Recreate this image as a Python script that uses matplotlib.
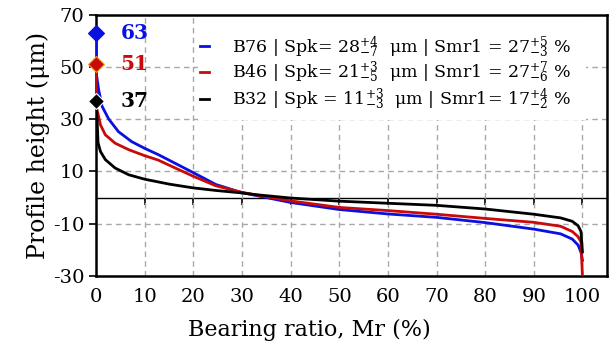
import matplotlib
matplotlib.use("Agg")
import matplotlib.pyplot as plt
from matplotlib.patches import Rectangle

plt.rcParams["font.family"] = ["DejaVu Serif"]
plt.rcParams["mathtext.fontset"] = "dejavuserif"
plt.rcParams["axes.unicode_minus"] = False

# bearing ratio curves
b76_x = [0, 0, 0.55, 1.2, 2.6, 4.6, 7.3, 10, 12.8, 15.1, 19.9, 24.6, 29.7, 32.8, 40, 50, 60, 70, 80, 90, 95.5, 97.9, 99.1, 99.7, 100]
b76_y = [63, 48, 41, 35, 30, 25.2, 21.4, 18.8, 16.4, 14.2, 9.6, 5.0, 2.0, 0.8, -1.9, -4.6, -6.3, -7.6, -9.6, -12.1, -13.9, -15.9, -18.2, -21, -24]
b46_x = [0, 0, 0.4, 0.9, 1.9, 3.9, 6.7, 10, 12.8, 15.1, 19.9, 24.6, 29.7, 32.8, 40, 50, 60, 70, 80, 90, 95.5, 97.9, 99.1, 99.7, 100]
b46_y = [51, 35, 32, 27.8, 24, 20.8, 18.3, 16, 14.3, 12.3, 8.2, 4.5, 2.1, 1.0, -1.3, -3.8, -5.0, -6.4, -8.0, -9.5, -11, -13, -15, -17, -30]
b32_x = [0, 0, 0.2, 0.4, 0.9, 1.9, 3.9, 6.7, 10, 15.1, 19.9, 24.6, 29.7, 32.8, 40, 50, 60, 70, 80, 90, 95.5, 97.9, 99.1, 99.7, 100]
b32_y = [37, 36, 30, 21, 17.6, 14.5, 11.3, 8.7, 7.0, 5.1, 3.7, 2.7, 1.8, 1.1, -0.2, -1.4, -2.2, -3.0, -4.4, -6.4, -7.8, -9.1, -10.8, -13, -20.8]

peaks = [63, 51, 37]
legend_labels = [
    r"B76 | Spk= $28^{+4}_{-7}$  μm | Smr1 = $27^{+5}_{-3}$ %",
    r"B46 | Spk= $21^{+3}_{-5}$  μm | Smr1 = $27^{+7}_{-6}$ %",
    r"B32 | Spk = $11^{+3}_{-3}$  μm | Smr1= $17^{+4}_{-2}$ %",
]
colors = ["#0a10e0", "#c80a0a", "#000000"]
edge_colors = ["#0a10e0", "#f0a030", "#ffffff"]

fig = plt.figure(figsize=(6.16, 3.56), dpi=100)
ax = fig.add_axes([0.156, 0.225, 0.829, 0.734])

curves = [(b76_x, b76_y), (b46_x, b46_y), (b32_x, b32_y)]
handles = []
for (xs, ys), c, lab in zip(curves, colors, legend_labels):
    h, = ax.plot(xs, ys, color=c, lw=2, label=lab, zorder=3)
    handles.append(h)

for p, c, ec in zip(peaks, colors, edge_colors):
    ax.plot([0], [p], marker="D", ms=8, color=c, mec=ec, mew=0.8, zorder=5, clip_on=False)
    ax.text(5.0, p, str(p), color=c, fontsize=14.5, fontweight="bold", va="center", ha="left", zorder=5)

ax.set_xlim(0, 105)
ax.set_ylim(-30, 70)
ax.set_xticks(range(0, 101, 10))
ax.set_yticks(range(-30, 71, 20))
ax.tick_params(axis="x", length=0, labelsize=14, pad=9)
ax.tick_params(axis="y", length=5, width=1.2, labelsize=14)
ax.grid(True, color="#a8a8a8", linestyle=(0, (4, 3)), linewidth=1, zorder=0)
ax.set_axisbelow(True)
for s in ax.spines.values():
    s.set_linewidth(1.8)
ax.set_xlabel("Bearing ratio, Mr (%)", fontsize=16)
ax.xaxis.set_label_coords(0.417, -0.165)
ax.set_ylabel("Profile height (μm)", fontsize=17, labelpad=2)

# zero line with its own tick marks
sec = ax.secondary_xaxis(0.3)
sec.set_xticks(range(10, 101, 10))
sec.xaxis.set_ticks_position("bottom")
sec.tick_params(direction="out", length=5, width=1.2, labelbottom=False, labeltop=False)
sec.spines["bottom"].set_linewidth(1)

# white block behind the legend hides the grid there
ax.add_patch(Rectangle((0.2, 0.597), 0.76, 0.403, transform=ax.transAxes,
                       facecolor="white", edgecolor="none", zorder=1))

leg = ax.legend(handles=handles, loc="upper left", bbox_to_anchor=(0.2035, 0.925),
                borderaxespad=0, fontsize=12.5, frameon=False,
                handlelength=0.5, handletextpad=1.35, labelspacing=0.0, borderpad=0)
leg.set_zorder(4)

fig.savefig("out.png", dpi=100)
